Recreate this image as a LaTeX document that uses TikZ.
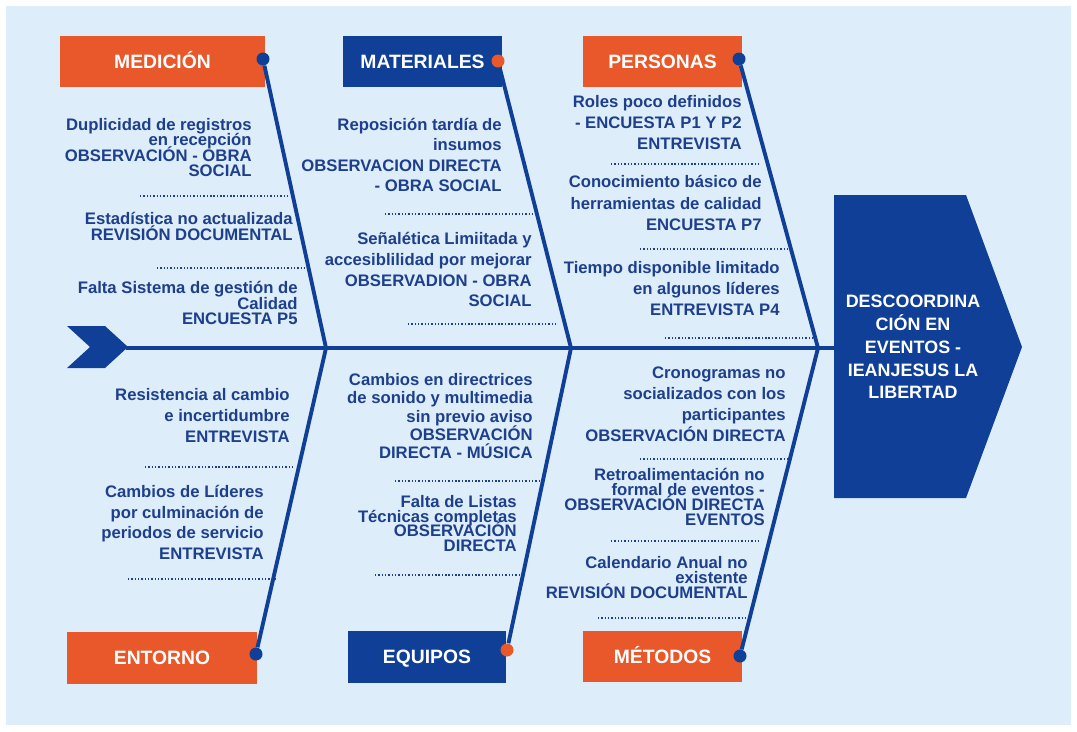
\documentclass[tikz,border=0pt]{standalone}
\usepackage{fontspec}
\setmainfont{Liberation Sans}

\definecolor{bgblue}{HTML}{DDEDFA}
\definecolor{navy}{HTML}{0F3F96}
\definecolor{rust}{HTML}{E8582A}
\definecolor{ink}{HTML}{1D3F8C}

\tikzset{
  cause/.style={fill=#1, text=white, font=\fontsize{11}{13}\selectfont\bfseries,
    minimum height=1.03cm, inner sep=0pt, text height=7.9pt, text depth=0pt},
  knob/.style={circle, fill=#1, inner sep=0pt, minimum size=0.26cm},
  bone/.style={navy, line width=2.2pt},
  % fixed line pitch, even where accents touch the line above
  lab/.style={text=ink, font={\fontsize{9.5}{#1}\selectfont\bfseries\lineskiplimit=-20pt},
    align=right, anchor=north east, inner sep=0pt},
  lab/.default=11.8,
  dotsep/.style={ink, line width=0.8pt, dash pattern=on 0.8pt off 1.1pt},
}

\begin{document}
\begin{tikzpicture}[x=0.02cm, y=-0.02cm]
\useasboundingbox (0,0) rectangle (1077,731);
\fill[white] (0,0) rectangle (1077,731);
\fill[bgblue] (6,6) rectangle (1071,725);

% fish tail and head
\fill[navy] (67,326) -- (105,326) -- (128,347) -- (105,368) -- (67,368) -- (90,347) -- cycle;
\coordinate (tail) at (126,348);
\fill[navy] (834,195) -- (966,195) -- (1022,347) -- (966,498) -- (834,498) -- cycle;
\coordinate (headin) at (835,348);
\node[text=white, font=\fontsize{10.2}{13}\selectfont\bfseries, align=center] (problem) at (913,347)
  {DESCOORDINA\\CIÓN EN\\EVENTOS -\\IEANJESUS LA\\LIBERTAD};

% joints on the spine
\coordinate (j1) at (326,348);
\coordinate (j2) at (571,348);
\coordinate (j3) at (818,348);

% category boxes
\node[cause=rust, minimum width=4.1cm] (medicion) at (162.5,61.5) {MEDICIÓN};
\node[cause=navy, minimum width=3.18cm] (materiales) at (422.5,61.5) {MATERIALES};
\node[cause=rust, minimum width=3.18cm] (personas) at (662.5,61.5) {PERSONAS};
\node[cause=rust, minimum width=3.8cm] (entorno) at (162,658) {ENTORNO};
\node[cause=navy, minimum width=3.16cm] (equipos) at (427,657) {EQUIPOS};
\node[cause=rust, minimum width=3.18cm] (metodos) at (662.5,656.5) {MÉTODOS};

\node[knob=navy] (kmed) at (263,59) {};
\node[knob=rust] (kmat) at (498,61) {};
\node[knob=navy] (kper) at (739,59) {};
\node[knob=navy] (kent) at (256,654) {};
\node[knob=rust] (kequ) at (507,650) {};
\node[knob=navy] (kmet) at (740,656) {};

% spine and bones
\draw[bone] (tail) -- (headin);
\draw[bone] (kmed) -- (j1) -- (kent);
\draw[bone] (kmat) -- (j2) -- (kequ);
\draw[bone] (kper) -- (j3) -- (kmet);

% medicion
\node[lab=8.7] (m1) at (252,118) {Duplicidad de registros\\en recepción\\OBSERVACIÓN - OBRA\\SOCIAL};
\draw[dotsep] (140,196) -- (290,196);
\node[lab=9.1] (m2) at (293,212) {Estadística no actualizada\\REVISIÓN DOCUMENTAL};
\draw[dotsep] (157,268) -- (305,268);
\node[lab=8.8] (m3) at (298,281) {Falta Sistema de gestión de\\Calidad\\ENCUESTA P5};

% materiales
\node[lab=11.6] (t1) at (502,118) {Reposición tardía de\\insumos\\OBSERVACION DIRECTA\\- OBRA SOCIAL};
\draw[dotsep] (385,214) -- (533,214);
\node[lab] (t2) at (532,232) {Señalética Limiitada y\\accesiblilidad por mejorar\\OBSERVADION - OBRA\\SOCIAL};
\draw[dotsep] (408,324) -- (557,324);

% personas
\node[lab=12] (p1) at (742,95) {Roles poco definidos\\- ENCUESTA P1 Y P2\\ENTREVISTA};
\draw[dotsep] (611,164) -- (758,164);
\node[lab=12.2] (p2) at (762,175) {Conocimiento básico de\\herramientas de calidad\\ENCUESTA P7};
\draw[dotsep] (640,249) -- (787,249);
\node[lab=12] (p3) at (780,261) {Tiempo disponible limitado\\en algunos líderes\\ENTREVISTA P4};
\draw[dotsep] (665,338) -- (817,338);

% entorno
\node[lab=12] (e1) at (290,388) {Resistencia al cambio\\e incertidumbre\\ENTREVISTA};
\draw[dotsep] (145,467) -- (293,467);
\node[lab=11.7] (e2) at (264,485) {Cambios de Líderes\\por culminación de\\periodos de servicio\\ENTREVISTA};
\draw[dotsep] (128,579) -- (277,579);

% equipos
\node[lab=10.4] (q1) at (533,373) {Cambios en directrices\\de sonido y multimedia\\sin previo aviso\\OBSERVACIÓN\\DIRECTA - MÚSICA};
\draw[dotsep] (395,481) -- (540,481);
\node[lab=8.4] (q2) at (517,495) {Falta de Listas\\Técnicas completas\\OBSERVACIÓN\\DIRECTA};
\draw[dotsep] (375,575) -- (520,575);

% metodos
\node[lab=12] (d1) at (786,366) {Cronogramas no\\socializados con los\\participantes\\OBSERVACIÓN DIRECTA};
\draw[dotsep] (640,459) -- (793,459);
\node[lab=8.5] (d2) at (765,468) {Retroalimentación no\\formal de eventos -\\OBSERVACIÓN DIRECTA\\EVENTOS};
\draw[dotsep] (611,541) -- (760,541);
\node[lab=8.5] (d3) at (748,556) {Calendario Anual no\\existente\\REVISIÓN DOCUMENTAL};
\draw[dotsep] (598,618) -- (748,618);
\end{tikzpicture}
\end{document}
